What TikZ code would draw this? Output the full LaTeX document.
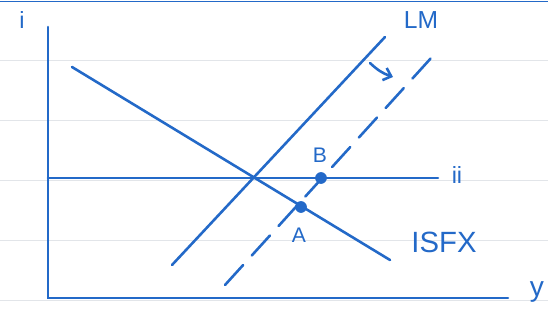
\documentclass[tikz,border=0pt]{standalone}
\usepackage{fontspec}
\setmainfont{Liberation Sans}
\usetikzlibrary{arrows.meta}

\definecolor{pen}{RGB}{35,105,200}
\definecolor{paperrule}{RGB}{226,229,233}

\begin{document}
\begin{tikzpicture}[
        x=0.03cm, y=-0.03cm,
        curve/.style={draw=pen, line width=2.2pt, line cap=round},
        shifted/.style={curve, dash pattern=on 23pt off 11pt},
        lbl/.style={text=pen, inner sep=1pt},
        dot/.style={circle, fill=pen, minimum size=10pt, inner sep=0pt},
        >={Straight Barb[length=6pt, width=11pt]}
        ]
        \useasboundingbox (0,0) rectangle (548,320);
        % paper
        \fill[white] (0,0) rectangle (548,320);
        \foreach \y in {60,120,180,240,300}
            \draw[paperrule, line width=0.8pt] (0,\y) -- (548,\y);
        \draw[pen, line width=1.6pt] (0,1.5) -- (548,1.5);
        % axes
        \coordinate (o) at (48,298);
        \coordinate (itop) at (48,27);
        \coordinate (yend) at (508,298);
        \draw[curve] (itop) -- (o) -- (yend);
        \node[lbl, font=\fontsize{20}{20}\selectfont] (ilab) at (22,20) {i};
        \node[lbl, font=\fontsize{24}{24}\selectfont] (ylab) at (537,292) {y};
        % world interest rate
        \coordinate (wl) at (48,178);
        \coordinate (wr) at (438,178);
        \draw[curve] (wl) -- (wr);
        \node[lbl, font=\fontsize{20}{20}\selectfont] (istar) at (457,175) {ii};
        % ISFX
        \coordinate (is1) at (72,67);
        \coordinate (is2) at (390,260);
        \draw[curve] (is1) -- (is2);
        \node[lbl, font=\fontsize{25}{25}\selectfont] (islab) at (444,242) {ISFX};
        % LM and shifted LM
        \coordinate (lm1) at (172,265);
        \coordinate (lm2) at (385,37);
        \draw[curve] (lm1) -- (lm2);
        \node[lbl, font=\fontsize{21}{21}\selectfont] (lmlab) at (421,20) {LM};
        \coordinate (lmb1) at (225,285);
        \coordinate (lmb2) at (432,57);
        \draw[shifted] (lmb1) -- (lmb2);
        \coordinate (s1) at (370,63);
        \coordinate (s2) at (393,77);
        \draw[curve, ->] (s1) to[bend right=12] (s2);
        % points
        \node[dot] (B) at (321,178) {};
        \node[dot] (A) at (301,207) {};
        \node[lbl, font=\fontsize{18}{18}\selectfont] (blab) at (320,155) {B};
        \node[lbl, font=\fontsize{18}{18}\selectfont] (alab) at (299,235) {A};
    \end{tikzpicture}
\end{document}
